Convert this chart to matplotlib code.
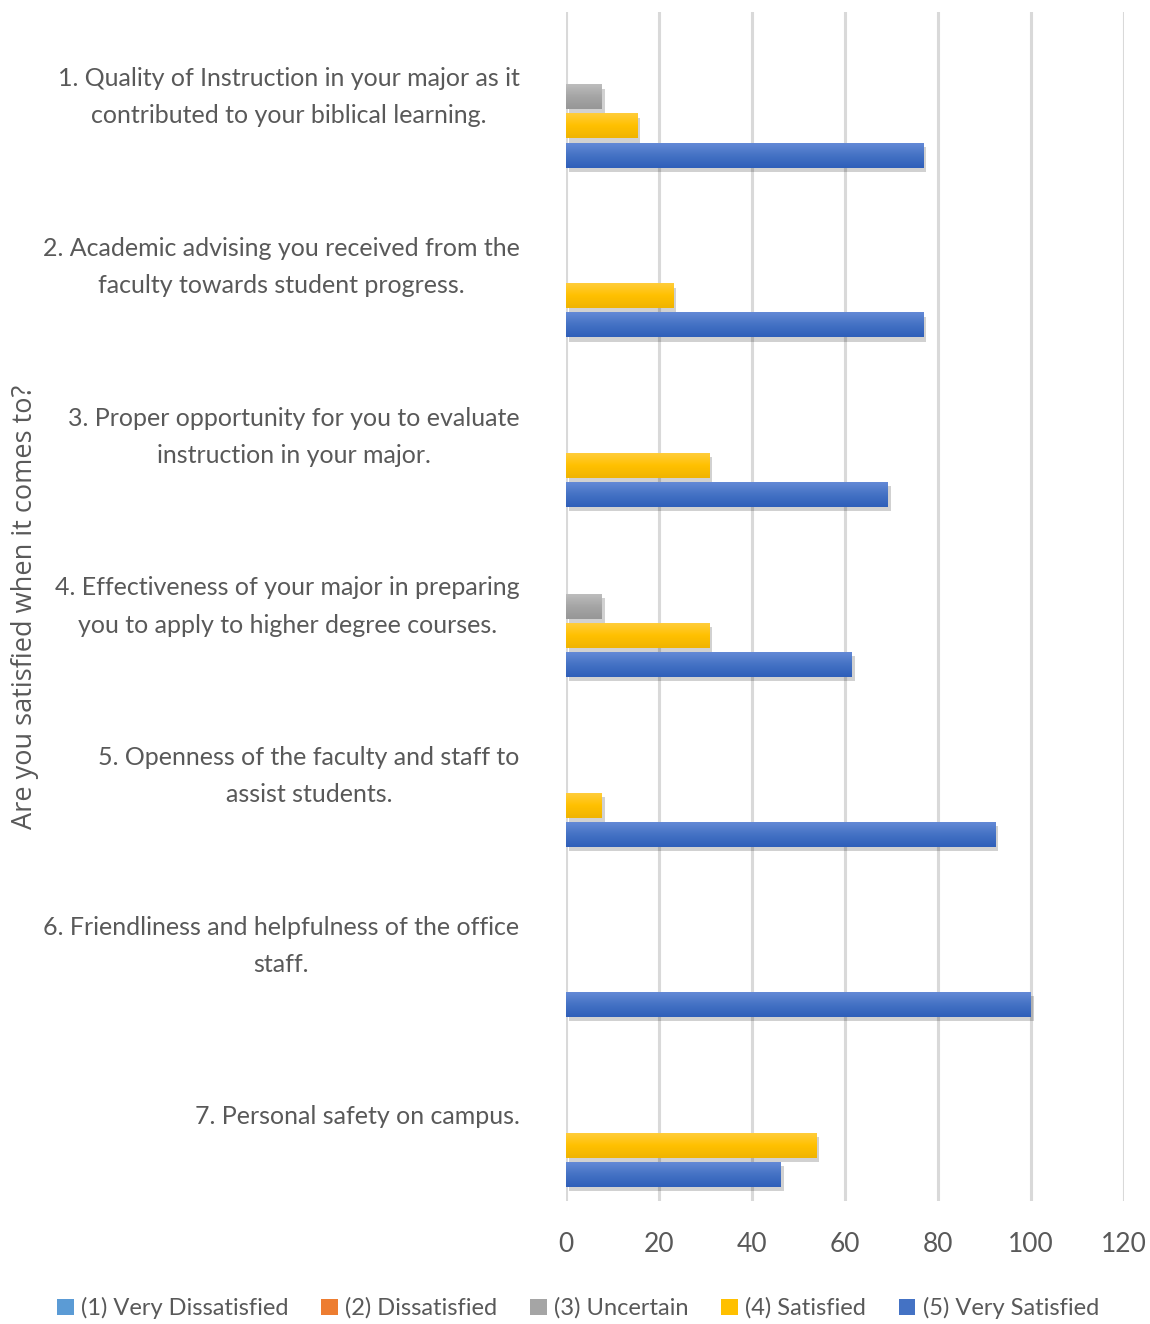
import numpy as np
import matplotlib
matplotlib.use("Agg")
import matplotlib.pyplot as plt
from matplotlib.colors import LinearSegmentedColormap
from matplotlib.patches import Patch
import matplotlib.patheffects as pe

questions = [
    "1. Quality of Instruction in your major as it\ncontributed to your biblical learning.",
    "2. Academic advising you received from the\nfaculty towards student progress.",
    "3. Proper opportunity for you to evaluate\ninstruction in your major.",
    "4. Effectiveness of your major in preparing\nyou to apply to higher degree courses.",
    "5. Openness of the faculty and staff to\nassist students.",
    "6. Friendliness and helpfulness of the office\nstaff.",
    "7. Personal safety on campus.",
]
series = ["(1) Very Dissatisfied", "(2) Dissatisfied", "(3) Uncertain",
          "(4) Satisfied", "(5) Very Satisfied"]
very_dissatisfied = [0, 0, 0, 0, 0, 0, 0]
dissatisfied = [0, 0, 0, 0, 0, 0, 0]
uncertain = [7.7, 0, 0, 7.7, 0, 0, 0]
satisfied = [15.4, 23.1, 30.8, 30.8, 7.7, 0, 53.8]
very_satisfied = [76.9, 76.9, 69.2, 61.5, 92.3, 100, 46.2]
values = [very_dissatisfied, dissatisfied, uncertain, satisfied, very_satisfied]

colors = ["#5B9BD5", "#ED7D31", "#A5A5A5", "#FFC000", "#4472C4"]
tops = ["#7FB2E0", "#F4995E", "#BDBDBD", "#FFCD3A", "#6389D6"]
bots = ["#4A8BC8", "#D96A20", "#979797", "#F0B400", "#2F5FBA"]

txt = "#595959"
fam = ["Lato", "DejaVu Sans"]

fig = plt.figure(figsize=(11.5, 13.24), dpi=100)
ax = fig.add_axes([566 / 1150, 1 - 1201 / 1324, (1124 - 566) / 1150, (1201 - 12) / 1324])

pitch = 0.171
h = 0.147
y = np.arange(len(questions))
for j, vals in enumerate(values):
    pos = y + (j - 2) * pitch
    ax.barh(pos, vals, height=h, color=colors[j], zorder=2,
            path_effects=[pe.SimplePatchShadow(offset=(2, -3), shadow_rgbFace="k", alpha=0.18),
                          pe.Normal()])
    cm = LinearSegmentedColormap.from_list("g%d" % j, [tops[j], colors[j], bots[j]])
    grad = np.linspace(0, 1, 32).reshape(-1, 1)
    for p, v in zip(pos, vals):
        if v > 0:
            ax.imshow(grad, extent=(0, v, p + h / 2, p - h / 2), origin="upper",
                      aspect="auto", cmap=cm, zorder=3, interpolation="bilinear")

ax.set_xlim(0, 120)
ax.set_ylim(len(questions) - 0.5, -0.5)
ax.set_xticks(np.arange(0, 121, 20))
ax.xaxis.grid(True, color="#D9D9D9", linewidth=2.2)
ax.set_axisbelow(True)
for s in ax.spines.values():
    s.set_visible(False)
ax.tick_params(axis="x", length=0, pad=22, labelsize=19, labelcolor=txt)
ax.tick_params(axis="y", length=0)
ax.set_yticks([])
for lab in ax.get_xticklabels():
    lab.set_family(fam)

for i, q in enumerate(questions):
    ax.text(-10, i, q, ha="right", va="center", multialignment="center",
            fontsize=18, color=txt, family=fam, linespacing=1.75)

fig.text(25 / 1150, 1 - 607 / 1324, "Are you satisfied when it comes to?", rotation=90,
         ha="center", va="center", fontsize=19.5, color=txt, family=["Open Sans", "DejaVu Sans"])

handles = [Patch(facecolor=c, edgecolor="none") for c in colors]
fig.legend(handles, series, loc="center", bbox_to_anchor=(578 / 1150, 1 - 1308 / 1324),
           ncol=5, frameon=False, handlelength=0.7, handleheight=0.7, handletextpad=0.3,
           columnspacing=1.4, prop={"family": fam, "size": 17}, labelcolor=txt)

fig.savefig("out.png", dpi=100)
